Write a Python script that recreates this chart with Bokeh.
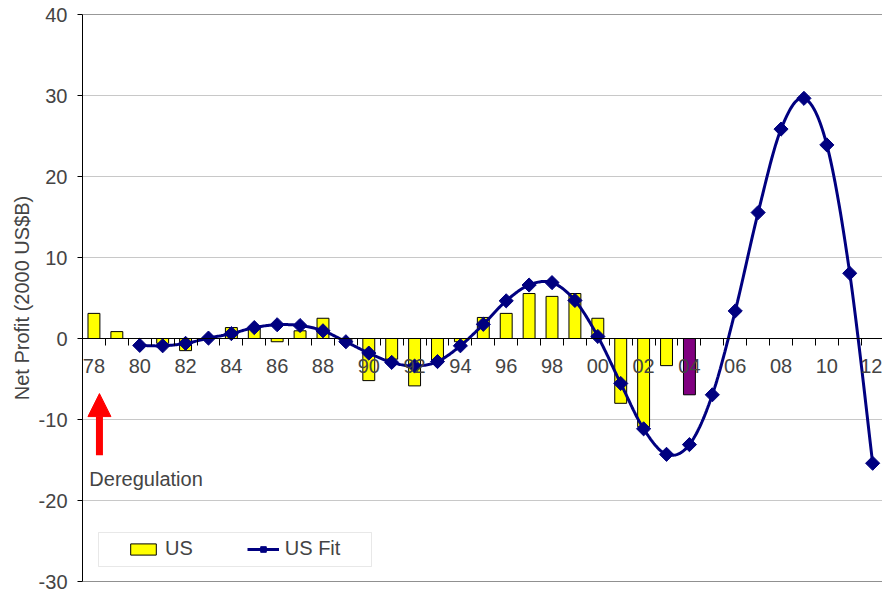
import numpy as np
from bokeh.plotting import figure
from bokeh.models import (ColumnDataSource, Range1d, FixedTicker, Span, Label, Arrow,
                          NormalHead, Legend, LegendItem, BoxAnnotation)
from bokeh.embed import file_html
from bokeh.resources import INLINE

# ---------------- data ----------------
years = ["78", "79", "80", "81", "82", "83", "84", "85", "86", "87", "88", "89",
         "90", "91", "92", "93", "94", "95", "96", "97", "98", "99", "00", "01",
         "02", "03", "04", "05", "06", "07", "08", "09", "10", "11", "12"]
us_years = years[:27]
us_profit = [3.1, 0.85, 0.0, -0.6, -1.5, 0.0, 1.35, 1.2, -0.4, 0.95, 2.5, -0.3,
             -5.2, -2.55, -5.85, -2.8, -0.4, 2.6, 3.1, 5.55, 5.2, 5.55, 2.5, -8.0,
             -10.9, -3.35, -6.95]
fit_years = years[2:]
us_fit = [-0.85, -0.9, -0.6, 0.05, 0.6, 1.35, 1.7, 1.6, 0.95, -0.4,
          -1.8, -2.95, -3.4, -2.85, -0.9, 1.75, 4.65, 6.6, 6.9, 4.7,
          0.25, -5.55, -11.15, -14.3, -13.1, -6.95, 3.4, 15.55, 25.85, 29.65,
          23.9, 8.05, -15.4]
highlight_year = "04"
label_years = years[::2]
y_ticks = [-30, -20, -10, 0, 10, 20, 30, 40]
y_tick_labels = ["-30", "-20", "-10", "0", "10", "20", "30", "40"]

FONT = "Liberation Sans"
NAVY = "#000080"

idx = {y: i for i, y in enumerate(years)}
bar_x = [idx[y] for y in us_years]
bar_col = ["#800080" if y == highlight_year else "#FFFF00" for y in us_years]
fit_x = np.array([idx[y] for y in fit_years], dtype=float)
fit_y = np.array(us_fit, dtype=float)

# Excel-style smoothed line (Bezier, tension 1/6) through the fit points
def smooth(xs, ys, n=20):
    P = np.column_stack([xs, ys])
    out = []
    for i in range(len(P) - 1):
        p0 = P[i - 1] if i > 0 else P[i]
        p1, p2 = P[i], P[i + 1]
        p3 = P[i + 2] if i + 2 < len(P) else P[i + 1]
        c1 = p1 + (p2 - p0) / 6.0
        c2 = p2 - (p3 - p1) / 6.0
        t = np.linspace(0, 1, n, endpoint=(i == len(P) - 2))[:, None]
        seg = ((1 - t) ** 3) * p1 + 3 * ((1 - t) ** 2) * t * c1 + 3 * (1 - t) * t ** 2 * c2 + t ** 3 * p2
        out.append(seg)
    A = np.vstack(out)
    return A[:, 0], A[:, 1]

sx, sy = smooth(fit_x, fit_y)

p = figure(width=882, height=594, output_backend="svg", toolbar_location=None,
           x_range=Range1d(-0.5, 34.43), y_range=Range1d(-30, 40),
           min_border_left=82, min_border_right=0, min_border_top=14, min_border_bottom=13)
p.outline_line_color = None
p.background_fill_color = "white"
p.border_fill_color = "white"

# grid
p.xgrid.grid_line_color = None
p.ygrid.ticker = FixedTicker(ticks=y_ticks)
p.ygrid.grid_line_color = "#c8c8c8"
p.ygrid.grid_line_width = 1

# top / bottom frame lines
p.add_layout(Span(location=40, dimension="width", line_color="#333333", line_width=1))
p.add_layout(Span(location=-30, dimension="width", line_color="#222222", line_width=1))

# y axis
ya = p.yaxis[0]
ya.ticker = FixedTicker(ticks=y_ticks)
ya.major_label_overrides = dict(zip(y_ticks, y_tick_labels))
ya.axis_label = "Net Profit (2000 US$B)"
ya.axis_label_text_font = FONT
ya.axis_label_text_font_size = "20px"
ya.axis_label_text_font_style = "normal"
ya.axis_label_standoff = 3
ya.major_label_text_font = FONT
ya.major_label_text_font_size = "20px"
ya.major_label_standoff = 10
ya.major_tick_out = 5
ya.major_tick_in = 0
ya.minor_tick_line_color = None
ya.axis_line_color = "black"
ya.major_tick_line_color = "black"

# x axis at y=0
xa = p.xaxis[0]
xa.fixed_location = 0
label_pos = [idx[y] for y in label_years]
xa.ticker = FixedTicker(ticks=label_pos, minor_ticks=[i - 0.5 for i in range(len(years) + 1)])
xa.major_label_overrides = {i: years[i] for i in label_pos}
xa.major_label_text_font = FONT
xa.major_label_text_font_size = "20px"
xa.major_label_standoff = 13
xa.major_tick_line_color = None
xa.major_tick_out = 0
xa.major_tick_in = 0
xa.minor_tick_out = 7
xa.minor_tick_in = 0
xa.minor_tick_line_color = "black"
xa.axis_line_color = "black"

# bars
src = ColumnDataSource(dict(x=bar_x, top=us_profit, color=bar_col))
bars = p.vbar(x="x", top="top", bottom=0, width=0.52, source=src,
              fill_color="color", line_color="black", line_width=1)

# fit line + markers
line_r = p.line(sx, sy, line_color=NAVY, line_width=3)
pts = p.scatter(fit_x, fit_y, marker="square", angle=np.pi / 4, size=10,
                fill_color=NAVY, line_color=NAVY)

# deregulation arrow + label
p.add_layout(Arrow(end=NormalHead(size=23, fill_color="red", line_color="red"),
                   x_start=0.24, y_start=-14.4, x_end=0.24, y_end=-6.8,
                   line_color="red", line_width=7))
p.add_layout(Label(x=-0.2, y=-17.4, text="Deregulation", text_baseline="middle",
                   text_align="left", text_font=FONT, text_font_size="20px"))

# legend box
p.add_layout(BoxAnnotation(left=16, right=289, bottom=15, top=49,
                           left_units="screen", right_units="screen",
                           bottom_units="screen", top_units="screen",
                           fill_color="white", fill_alpha=1,
                           line_color="#b4b4b4", line_width=1, level="annotation"))
legend = Legend(items=[LegendItem(label="US", renderers=[bars]),
                       LegendItem(label="US Fit", renderers=[line_r, pts])],
                orientation="horizontal", location=(45, 21),
                padding=0, spacing=54, margin=0,
                glyph_width=32, glyph_height=14, label_standoff=6,
                label_text_font=FONT, label_text_font_size="20px",
                border_line_color=None, background_fill_alpha=0)
p.add_layout(legend)

open("out.html", "w").write(file_html(p, INLINE))
